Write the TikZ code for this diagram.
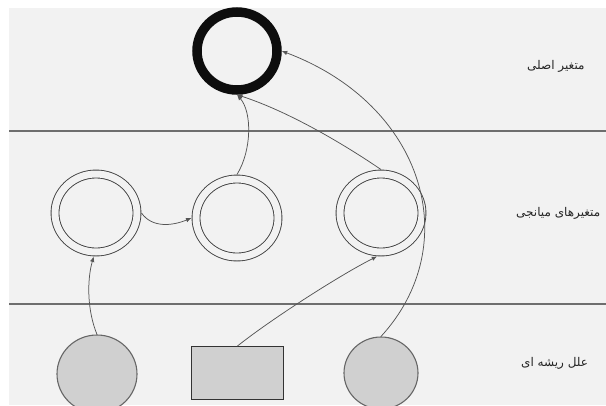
\documentclass[tikz,border=0pt]{standalone}
\usepackage{fontspec}
\usetikzlibrary{shapes.geometric,arrows.meta}
\newfontfamily\arabicfont[Script=Arabic]{DejaVu Sans}
\TeXXeTstate=1
\definecolor{bg}{HTML}{F2F2F2}
\definecolor{sep}{HTML}{6E6E6E}
\definecolor{shade}{HTML}{D0D0D0}
\definecolor{edge}{HTML}{555555}
\tikzset{
  mainvar/.style={draw=black!95, ellipse, line width=9.5pt, minimum width=80pt, minimum height=78pt, inner sep=0pt},
  medvar/.style={draw=black!75, ellipse, line width=0.9pt, double=bg, double distance=7pt, minimum width=82pt, minimum height=78pt, inner sep=0pt, outer sep=4.5pt},
  rootc/.style={draw=black!60, fill=shade, ellipse, line width=1.1pt, inner sep=0pt},
  rootr/.style={draw=black!80, fill=shade, rectangle, line width=1.1pt, inner sep=0pt, minimum width=92pt, minimum height=52.6pt},
  link/.style={draw=edge, line width=0.75pt, -{Latex[length=5.5pt,width=4.5pt]}},
  band/.style={draw=sep, line width=1.6pt},
  lbl/.style={anchor=west, inner sep=0pt, font=\arabicfont\fontsize{12}{14}\selectfont, text=black!85}
}
\begin{document}
\begin{tikzpicture}[x=1pt,y=-1pt]
\useasboundingbox (0,0) rectangle (606,405);
\clip (0,0) rectangle (606,405);
\fill[white] (0,0) rectangle (606,405);
\fill[bg] (9,8) rectangle (606,405);
\draw[band] (9,131) -- (606,131);
\draw[band] (9,304) -- (606,304);

\node[mainvar] (top) at (237,51) {};
\node[medvar] (ml) at (96,213) {};
\node[medvar] (mm) at (237,218) {};
\node[medvar] (mr) at (381,213) {};
\node[rootc, minimum width=80pt, minimum height=78pt] (bl) at (97,374) {};
\node[rootr] (bm) at (237.3,373) {};
\node[rootc, minimum width=74pt, minimum height=72pt] (br) at (381,373) {};

\node[lbl] (t1) at (527,66) {\beginR متغیر اصلی\endR};
\node[lbl] (t2) at (516,213) {\beginR متغیرهای میانجی\endR};
\node[lbl] (t3) at (521,363) {\beginR علل ریشه ای\endR};

\draw[link] (bl.north) .. controls (87,310) and (87,280) .. (ml.-93);
\draw[link] (bm.north) .. controls (270,320) and (340,275) .. (mr.-95);
\draw[link] (br.north) .. controls (465,245) and (425,105) .. (top.0);
\draw[link] (ml.east) .. controls (152,228) and (172,226) .. (mm.west);
\draw[link] (mm.north) .. controls (252,150) and (252,112) .. (top.south);
\draw[link] (mr.north) .. controls (345,145) and (290,112) .. (top.south);
\end{tikzpicture}
\end{document}
